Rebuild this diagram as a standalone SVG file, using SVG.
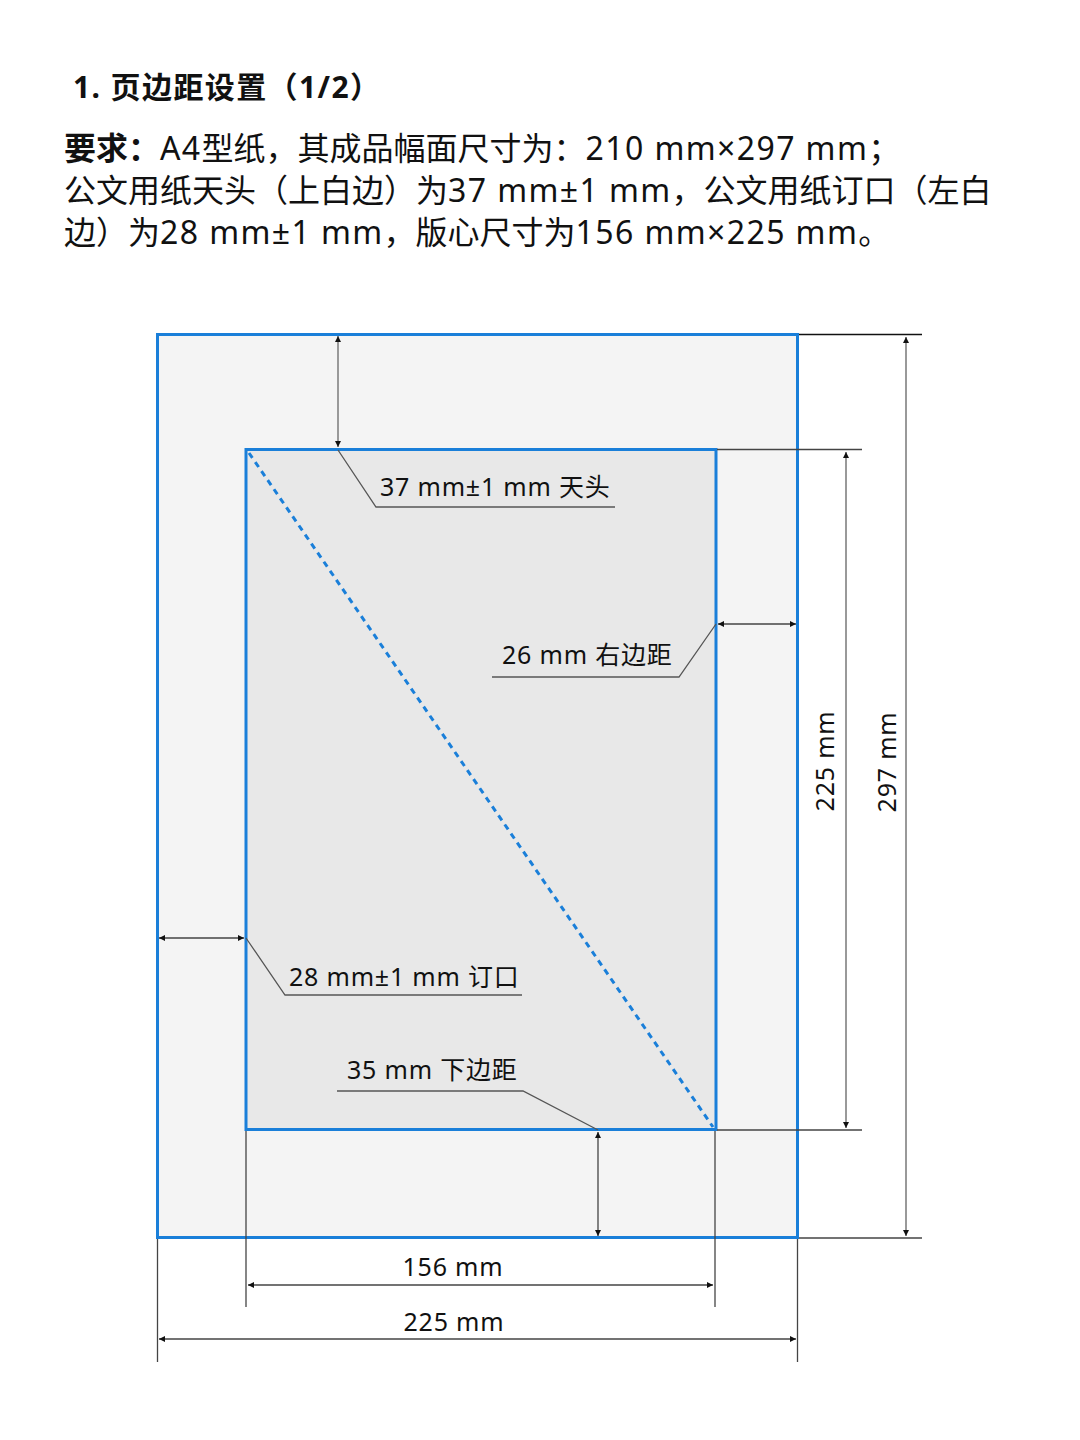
<svg xmlns="http://www.w3.org/2000/svg" width="1080" height="1440" viewBox="0 0 1080 1440">
<style>
text{font-family:"Noto Sans","Noto Sans CJK SC",sans-serif;fill:#111}
.t{font-size:30px;font-weight:bold;letter-spacing:1.4px}
.p{font-size:32px}
.lt{letter-spacing:1.4px}
.l{font-size:25px;letter-spacing:0.8px}
.blue{stroke:#1a7fd9;stroke-width:3}
.lead{stroke:#555;stroke-width:1.3;fill:none}
.dim{stroke:#999;stroke-width:2;fill:none}
.dimd{stroke:#444;stroke-width:1.3;fill:none}
.ext{stroke:#444;stroke-width:1.3;fill:none}
</style>
<defs>
<marker id="ah" viewBox="0 0 10 10" refX="10" refY="5" markerWidth="6" markerHeight="6" markerUnits="userSpaceOnUse" orient="auto-start-reverse">
<path d="M0,0 L10,5 L0,10 z" fill="#111"/>
</marker>
</defs>
<rect width="1080" height="1440" fill="#fff"/>
<g id="title">
<text class="t" x="73" y="98">1. 页边距设置（1/2）</text>
</g>
<g id="requirement">
<text class="p" x="64" y="160"><tspan font-weight="bold">要求：</tspan><tspan class="lt">A4</tspan>型纸，其成品幅面尺寸为：<tspan class="lt">210 mm×297 mm</tspan>；</text>
<text class="p" x="64" y="202">公文用纸天头（上白边）为<tspan class="lt">37 mm±1 mm</tspan>，公文用纸订口（左白</text>
<text class="p" x="64" y="244">边）为<tspan class="lt">28 mm±1 mm</tspan>，版心尺寸为<tspan class="lt">156 mm×225 mm</tspan>。</text>
</g>
<g id="page">
<rect x="157.5" y="334.5" width="640" height="903" fill="#f4f4f4" class="blue"/>
</g>
<g id="typearea">
<rect x="246" y="449.5" width="470" height="680" fill="#e8e8e8" class="blue"/>
<line x1="249" y1="453" x2="713" y2="1127" stroke="#1a7fd9" stroke-width="3" stroke-dasharray="6,5"/>
</g>
<g id="connectors">
<line class="dim" x1="338" y1="336" x2="338" y2="447" marker-start="url(#ah)" marker-end="url(#ah)"/>
<polyline class="lead" points="338,450 376,507 615,507"/>
<line class="dimd" x1="718" y1="624" x2="796" y2="624" marker-start="url(#ah)" marker-end="url(#ah)"/>
<polyline class="lead" points="716,624 679,677 492,677"/>
<line class="dimd" x1="159" y1="938" x2="244" y2="938" marker-start="url(#ah)" marker-end="url(#ah)"/>
<polyline class="lead" points="246,938 285,995 522,995"/>
<polyline class="lead" points="337,1091 523,1091 598,1130"/>
<line class="dimd" x1="598" y1="1132" x2="598" y2="1236" marker-start="url(#ah)" marker-end="url(#ah)"/>
<line x1="799" y1="334.5" x2="922" y2="334.5" stroke="#111" stroke-width="1.6"/>
<line class="ext" x1="717" y1="449.5" x2="862" y2="449.5"/>
<line class="ext" x1="717" y1="1130" x2="862" y2="1130"/>
<line class="ext" x1="799" y1="1238" x2="922" y2="1238"/>
<line class="dim" x1="846" y1="452" x2="846" y2="1128" marker-start="url(#ah)" marker-end="url(#ah)"/>
<line class="dim" x1="906" y1="337" x2="906" y2="1236" marker-start="url(#ah)" marker-end="url(#ah)"/>
<line class="ext" x1="246" y1="1131" x2="246" y2="1307"/>
<line class="ext" x1="715" y1="1131" x2="715" y2="1307"/>
<line class="ext" x1="157.5" y1="1239" x2="157.5" y2="1362"/>
<line class="ext" x1="797.5" y1="1239" x2="797.5" y2="1362"/>
<line class="dimd" x1="248" y1="1285" x2="713" y2="1285" marker-start="url(#ah)" marker-end="url(#ah)"/>
<line class="dimd" x1="159" y1="1339" x2="796" y2="1339" marker-start="url(#ah)" marker-end="url(#ah)"/>
</g>
<g id="labels">
<text class="l" x="380" y="496">37 mm±1 mm 天头</text>
<text class="l" x="502" y="664">26 mm 右边距</text>
<text class="l" x="289" y="986">28 mm±1 mm 订口</text>
<text class="l" x="347" y="1079">35 mm 下边距</text>
<text class="l" x="453" y="1276" text-anchor="middle">156 mm</text>
<text class="l" x="454" y="1331" text-anchor="middle">225 mm</text>
<text class="l" transform="translate(834,761) rotate(-90)" text-anchor="middle">225 mm</text>
<text class="l" transform="translate(896,762) rotate(-90)" text-anchor="middle">297 mm</text>
</g>
</svg>
